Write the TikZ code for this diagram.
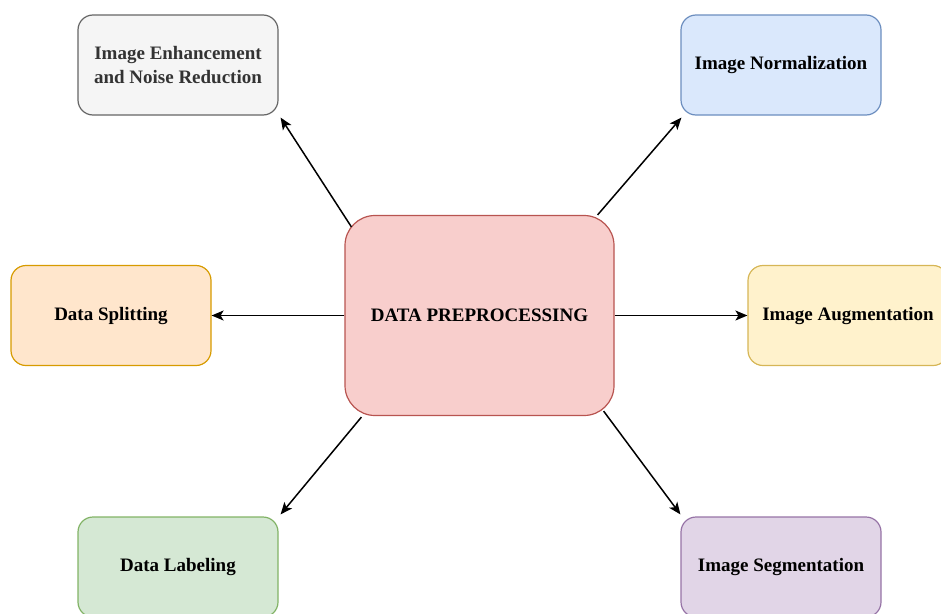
\documentclass[tikz,border=0pt]{standalone}
\usepackage{fontspec}
\setmainfont{Liberation Serif}
\usetikzlibrary{arrows.meta,calc}

\definecolor{enhfill}{HTML}{F5F5F5}
\definecolor{enhdraw}{HTML}{666666}
\definecolor{normfill}{HTML}{DAE8FC}
\definecolor{normdraw}{HTML}{6C8EBF}
\definecolor{splitfill}{HTML}{FFE6CC}
\definecolor{splitdraw}{HTML}{D79B00}
\definecolor{augfill}{HTML}{FFF2CC}
\definecolor{augdraw}{HTML}{D6B656}
\definecolor{labfill}{HTML}{D5E8D4}
\definecolor{labdraw}{HTML}{82B366}
\definecolor{segfill}{HTML}{E1D5E7}
\definecolor{segdraw}{HTML}{9673A6}
\definecolor{prepfill}{HTML}{F8CECC}
\definecolor{prepdraw}{HTML}{B85450}

\begin{document}
\begin{tikzpicture}[x=1pt,y=-1pt,
    box/.style={draw, rounded corners=15pt, line width=1.2pt, inner sep=0pt,
        minimum width=200pt, minimum height=100pt, align=center,
        font=\fontsize{19}{23.5}\selectfont\bfseries},
    link/.style={-{Stealth[length=12pt,width=10pt,inset=3pt]}, line width=1.5pt}]
    \useasboundingbox (0,0) rectangle (941,613);
    \clip (0,0) rectangle (941,613);

    % centre step
    \node[box, minimum width=269pt, minimum height=200pt, rounded corners=30pt,
          fill=prepfill, draw=prepdraw] (prep) at (479.5,315.5) {DATA PREPROCESSING};

    % outer steps
    \foreach \name/\x/\y/\fc/\dc/\labeltext in {
        enh/178/65/enhfill/enhdraw/{\textcolor{black!80}{Image Enhancement}\\\textcolor{black!80}{and Noise Reduction}},
        norm/781/65/normfill/normdraw/{Image Normalization},
        split/111/315.5/splitfill/splitdraw/{Data Splitting},
        aug/848/315.5/augfill/augdraw/{Image Augmentation},
        lab/178/567/labfill/labdraw/{Data Labeling},
        seg/781/567/segfill/segdraw/{Image Segmentation}}
    {
        \node[box, fill=\fc, draw=\dc] (\name) at (\x,\y) {\labeltext};
    }

    \draw[link] ($(prep.north west)+(7,12)$) -- ($(enh.south east)+(2,2)$);
    \draw[link] ($(prep.north east)+(-17,0)$) -- ($(norm.south west)+(1,2)$);
    \draw[link] (prep.west) -- (split.east);
    \draw[link] (prep.east) -- (aug.west);
    \draw[link] ($(prep.south west)+(17,1)$) -- ($(lab.north east)+(2,-2)$);
    \draw[link] ($(prep.south east)+(-11,-5)$) -- ($(seg.north west)+(0,-2)$);
\end{tikzpicture}
\end{document}
